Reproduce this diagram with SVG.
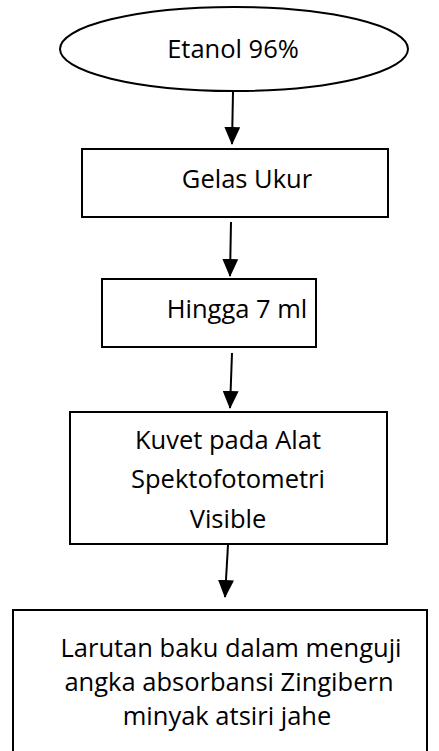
<svg xmlns="http://www.w3.org/2000/svg" width="439" height="751" viewBox="0 0 439 751">
<style>
.shape{fill:#fff;stroke:#000;stroke-width:2}
.lbl{font-family:"Open Sans","Liberation Sans",sans-serif;font-size:25.5px;fill:#000;text-anchor:middle}
.conn{stroke:#000;stroke-width:2;fill:none;marker-end:url(#ah)}
</style>
<defs>
<marker id="ah" markerUnits="userSpaceOnUse" markerWidth="18" markerHeight="16" viewBox="0 0 18 16" refX="17" refY="8" orient="auto">
<path d="M0,0 L18,8 L0,16 Z" fill="#000"/>
</marker>
</defs>
<rect width="439" height="751" fill="#fff"/>
<g id="n1">
<ellipse class="shape" cx="234" cy="49" rx="174" ry="42"/>
<text class="lbl" x="233" y="58">Etanol 96%</text>
</g>
<g id="n2">
<rect class="shape" x="82" y="149" width="306" height="68"/>
<text class="lbl" x="247" y="188">Gelas Ukur</text>
</g>
<g id="n3">
<rect class="shape" x="102" y="279" width="214" height="68"/>
<text class="lbl" x="237" y="318">Hingga 7 ml</text>
</g>
<g id="n4">
<rect class="shape" x="70" y="412" width="317" height="132"/>
<text class="lbl" x="228" y="449">Kuvet pada Alat</text>
<text class="lbl" x="228" y="488">Spektofotometri</text>
<text class="lbl" x="228" y="528">Visible</text>
</g>
<g id="n5">
<rect class="shape" x="13" y="610" width="414" height="160"/>
<text class="lbl" x="231" y="657">Larutan baku dalam menguji</text>
<text class="lbl" x="229" y="691">angka absorbansi Zingibern</text>
<text class="lbl" x="227" y="725">minyak atsiri jahe</text>
</g>
<g id="connectors">
<line class="conn" x1="233" y1="92" x2="232" y2="144"/>
<line class="conn" x1="231" y1="222" x2="230" y2="276"/>
<line class="conn" x1="232" y1="353" x2="230" y2="408"/>
<line class="conn" x1="228" y1="545" x2="225" y2="597"/>
</g>
</svg>
